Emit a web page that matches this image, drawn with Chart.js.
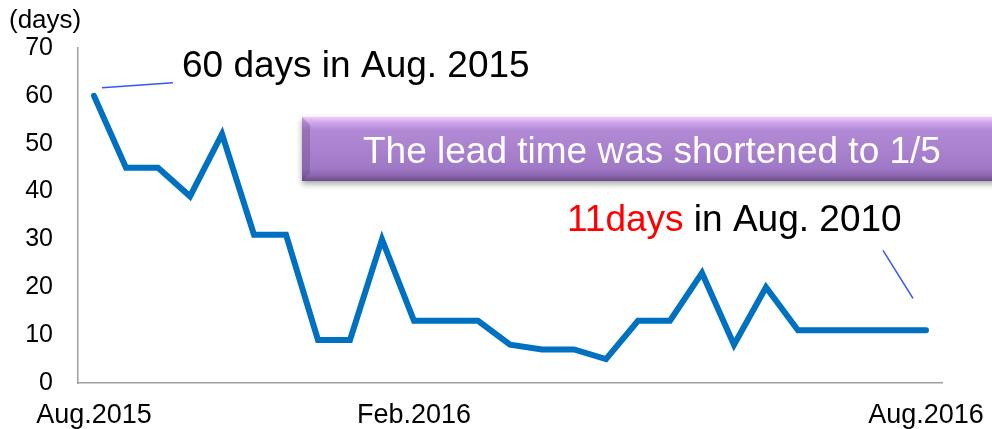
<!DOCTYPE html>
<html>
<head>
<meta charset="utf-8">
<script src="https://cdn.jsdelivr.net/npm/chart.js@4/dist/chart.umd.min.js"></script>
<style>
  html, body { margin: 0; padding: 0; background: #fff; }
  canvas { display: block; }
</style>
</head>
<body>
<canvas id="leadChart" width="992" height="429"></canvas>
<script>
// data (one point every two weeks)
var periods = ['Aug.2015', '', '', '', '', '', '', '', '', '', 'Feb.2016', '', '', '',
               '', '', '', '', '', '', '', '', '', '', '', '', 'Aug.2016'];
var leadDays = [60, 45, 45, 39, 52, 31, 31, 9, 9, 30, 13, 13, 13, 8,
                7, 7, 5, 13, 13, 23, 8, 20, 11, 11, 11, 11, 11];
var yTicks = [0, 10, 20, 30, 40, 50, 60, 70];

var FONT = '"Liberation Sans", Arial, sans-serif';

// callouts drawn on top of the chart
var callouts = {
    id: 'callouts',
    afterDraw: function (chart) {
        var ctx = chart.ctx;
        var x = chart.scales.x, y = chart.scales.y;
        var last = leadDays.length - 1;
        ctx.save();

        // unit label
        ctx.fillStyle = '#000';
        ctx.font = '26px ' + FONT;
        ctx.textBaseline = 'alphabetic';
        ctx.fillText('(days)', 9, 28);

        // leader lines
        ctx.strokeStyle = '#3355ff';
        ctx.lineWidth = 1.5;
        var x0 = x.getPixelForValue(0), y0 = y.getPixelForValue(leadDays[0]);
        ctx.beginPath();
        ctx.moveTo(x0 + 8, y0 - 8);
        ctx.lineTo(x0 + 79, y0 - 13);
        ctx.stroke();
        var x1 = x.getPixelForValue(last), y1 = y.getPixelForValue(leadDays[last]);
        ctx.beginPath();
        ctx.moveTo(x1 - 43, y1 - 80);
        ctx.lineTo(x1 - 13, y1 - 32);
        ctx.stroke();

        // texts
        ctx.font = '37px ' + FONT;
        ctx.fillStyle = '#000';
        ctx.fillText('60 days in Aug. 2015', 182, 77);
        ctx.fillStyle = '#ff0000';
        ctx.fillText('11days', 567, 231);
        var w = ctx.measureText('11days ').width;
        ctx.fillStyle = '#000';
        ctx.fillText('in Aug. 2010', 567 + w, 231);

        // purple banner
        var bx = 302, by = 117, bw = 720, bh = 64;
        ctx.save();
        ctx.shadowColor = 'rgba(0,0,0,0.35)';
        ctx.shadowBlur = 6;
        ctx.shadowOffsetY = 3;
        var g = ctx.createLinearGradient(0, by, 0, by + bh);
        g.addColorStop(0, '#f4cafc');
        g.addColorStop(0.08, '#d2a8ee');
        g.addColorStop(0.2, '#b28ad6');
        g.addColorStop(0.8, '#a079c6');
        g.addColorStop(0.92, '#8a64ad');
        g.addColorStop(1, '#6b4c86');
        ctx.fillStyle = g;
        ctx.fillRect(bx, by, bw, bh);
        ctx.restore();
        // left bevel
        ctx.fillStyle = 'rgba(90,60,120,0.3)';
        ctx.beginPath();
        ctx.moveTo(bx, by);
        ctx.lineTo(bx + 8, by + 8);
        ctx.lineTo(bx + 8, by + bh - 8);
        ctx.lineTo(bx, by + bh);
        ctx.closePath();
        ctx.fill();

        ctx.font = '37px ' + FONT;
        ctx.fillStyle = '#ffffff';
        ctx.fillText('The lead time was shortened to 1/5', 363, 163);
        ctx.restore();
    }
};

var config = {
    type: 'line',
    data: {
        labels: periods,
        datasets: [{
            label: 'Lead time',
            data: leadDays,
            borderColor: '#0070c0',
            borderWidth: 6,
            borderJoinStyle: 'miter',
            borderCapStyle: 'round',
            pointRadius: 0,
            tension: 0,
            fill: false
        }]
    },
    options: {
        responsive: false,
        animation: false,
        devicePixelRatio: 1,
        layout: { padding: { top: 48, right: 50, bottom: 0, left: 0 } },
        plugins: {
            legend: { display: false },
            tooltip: { enabled: false }
        },
        scales: {
            x: {
                offset: true,
                grid: { display: false, drawTicks: false },
                border: { color: '#a0a0a0', width: 1.5 },
                ticks: {
                    autoSkip: false,
                    maxRotation: 0,
                    padding: 16,
                    color: '#000',
                    font: { family: FONT, size: 27 }
                },
                afterFit: function (s) {
                    s.height = 46;
                    s.paddingLeft = 0;
                    s.paddingRight = 0;
                }
            },
            y: {
                min: 0,
                max: 70,
                grid: { display: false, drawTicks: false },
                border: { color: '#a0a0a0', width: 1.5 },
                ticks: {
                    stepSize: 10,
                    padding: 25,
                    color: '#000',
                    font: { family: FONT, size: 25 }
                },
                afterBuildTicks: function (s) {
                    s.ticks = yTicks.map(function (v) { return { value: v }; });
                },
                afterFit: function (s) {
                    s.width = 78;
                    s.paddingTop = 0;
                    s.paddingBottom = 0;
                }
            }
        }
    },
    plugins: [callouts]
};

var ctx = document.getElementById('leadChart').getContext('2d');
new Chart(ctx, config);
</script>
</body>
</html>
